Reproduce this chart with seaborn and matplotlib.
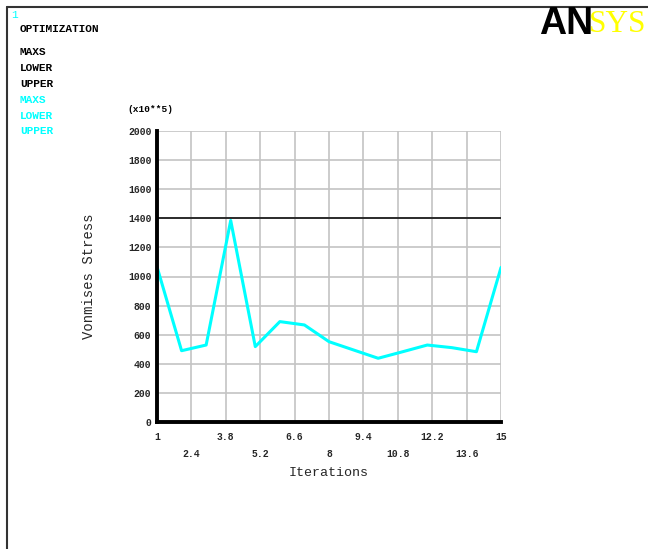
import matplotlib
matplotlib.use("Agg")
import matplotlib.pyplot as plt
from matplotlib.lines import Line2D
import numpy as np
import pandas as pd
import seaborn as sns

# Data
iterations = [1, 2, 3, 4, 5, 6, 7, 8, 9, 10, 11, 12, 13, 14, 15]
maxs = [1067, 490, 529, 1385, 518, 690, 667, 552, 495, 438, 483, 529, 511, 483, 1062]
upper_limit = 1400
x_ticks = [1, 2.4, 3.8, 5.2, 6.6, 8, 9.4, 10.8, 12.2, 13.6, 15]
x_tick_labels = ["1", "2.4", "3.8", "5.2", "6.6", "8", "9.4", "10.8", "12.2", "13.6", "15"]
y_ticks = [0, 200, 400, 600, 800, 1000, 1200, 1400, 1600, 1800, 2000]
legend_black = ["MAXS", "LOWER", "UPPER"]
legend_cyan = ["MAXS", "LOWER", "UPPER"]

sns.set_style("white")
plt.rcParams['font.family'] = ['Liberation Mono', 'DejaVu Sans Mono']

W, H = 648, 549
fig = plt.figure(figsize=(W / 100, H / 100), dpi=100)
ax = fig.add_axes([157 / W, 1 - 422 / H, 344 / W, 291 / H])

df = pd.DataFrame({"Iterations": iterations, "MAXS": maxs})
sns.lineplot(data=df, x="Iterations", y="MAXS", ax=ax, color="#00ffff", lw=2.2, zorder=5)
ax.axhline(upper_limit, color="black", lw=1.1, zorder=4)

ax.set_xlim(1, 15)
ax.set_ylim(0, 2000)
ax.set_xticks(x_ticks)
ax.set_xticklabels([lab if i % 2 == 0 else "\n" + lab for i, lab in enumerate(x_tick_labels)],
                   fontsize=7, linespacing=1.9, fontweight="bold")
ax.set_yticks(y_ticks)
ax.set_yticklabels([str(v) for v in y_ticks], fontsize=7, fontweight="bold")
ax.grid(True, color="#c4c4c4", lw=1.2, zorder=1)
ax.tick_params(axis="x", which="both", length=5, color="#c4c4c4", width=1.2, pad=2)
ax.tick_params(axis="y", which="both", length=2, color="black", width=1, pad=2)
for s in ["top", "right"]:
    ax.spines[s].set_visible(False)
for s in ["left", "bottom"]:
    ax.spines[s].set_color("black")
    ax.spines[s].set_linewidth(2.8)
    ax.spines[s].set_zorder(6)
ax.set_xlabel("Iterations", fontsize=9.6, labelpad=5.5)
ax.set_ylabel("Vonmises Stress", fontsize=10)
ax.yaxis.set_label_coords(-0.176, 0.5)

# figure border
fig.add_artist(Line2D([6.5 / W, 6.5 / W], [0, 1 - 6.5 / H], color="#333333", lw=1.5, transform=fig.transFigure))
fig.add_artist(Line2D([6.5 / W, 1], [1 - 6.5 / H, 1 - 6.5 / H], color="#333333", lw=1.5, transform=fig.transFigure))

def ftext(x, y, s, **kw):
    fig.text(x / W, 1 - y / H, s, **kw)

ftext(11, 15, "1", color="#00ffff", fontsize=8, va="center", ha="left")
ftext(20, 29, "OPTIMIZATION", color="black", fontsize=8, va="center", ha="left", fontweight="bold")
ys = [52, 68, 84]
for y, s in zip(ys, legend_black):
    ftext(20, y, s, color="black", fontsize=8, va="center", ha="left", fontweight="bold")
ys2 = [100, 116, 131]
for y, s in zip(ys2, legend_cyan):
    ftext(20, y, s, color="#00ffff", fontsize=8, va="center", ha="left", fontweight="bold")
ftext(127, 109, "(x10**5)", color="black", fontsize=6.8, va="center", ha="left", fontweight="bold")

# ANSYS logo
ftext(539, 24, "AN", color="black", fontsize=27, va="center", ha="left", fontweight="bold",
      family="Liberation Sans")
ftext(589, 24, "SYS", color="#ffff00", fontsize=22.5, va="center", ha="left", family="Liberation Serif")

fig.savefig("out.png", dpi=100, facecolor="white")
